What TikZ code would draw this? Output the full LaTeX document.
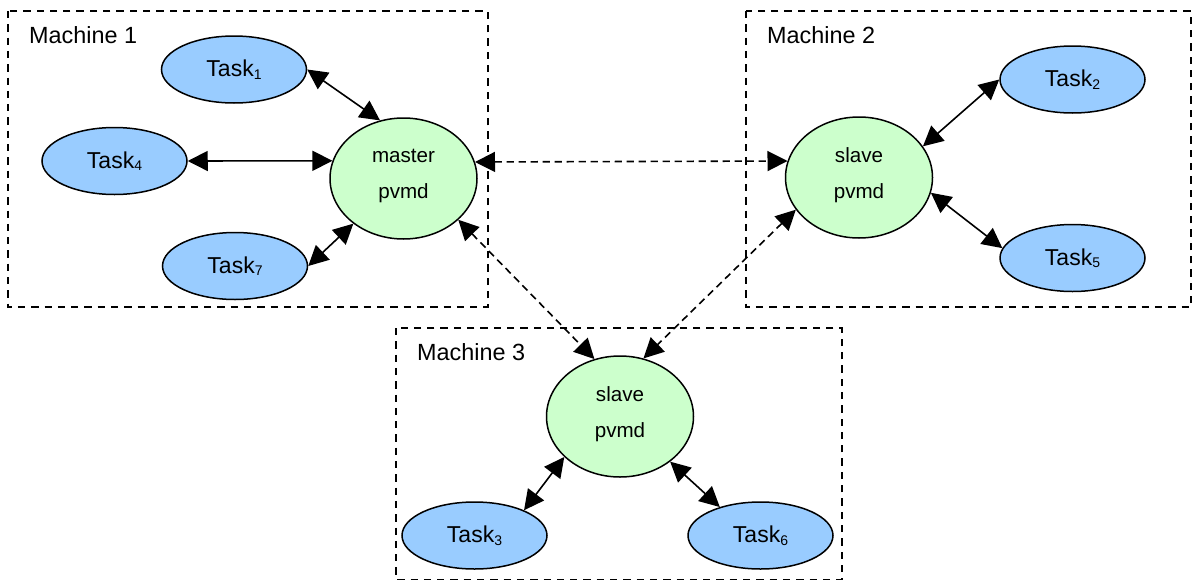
\documentclass[tikz,border=0pt]{standalone}
\usepackage{fontspec}
\setmainfont{Liberation Sans}
\usetikzlibrary{shapes.geometric,arrows.meta}
\definecolor{taskblue}{HTML}{99CCFF}
\definecolor{pvmdgreen}{HTML}{CCFFCC}
\newcommand\tsub[1]{\raisebox{-2.5pt}{\fontsize{14}{14}\selectfont #1}}
\begin{document}
\begin{tikzpicture}[x=1pt,y=-1pt,
  task/.style={ellipse, draw, line width=1.5pt, fill=taskblue, minimum width=145pt, minimum height=67pt, inner sep=0pt, font=\fontsize{23}{23}\selectfont},
  pvmd/.style={ellipse, draw, line width=1.5pt, fill=pvmdgreen, minimum width=147pt, minimum height=121pt, inner sep=0pt, align=center, text depth=8.8pt, font=\fontsize{20.6}{36}\selectfont},
  machinebox/.style={line width=1.5pt, dash pattern=on 7.3pt off 6pt},
  machinelabel/.style={anchor=base west, inner sep=0pt, font=\fontsize{23.4}{23.4}\selectfont},
  tip/.style={Triangle[length=20pt,width=20pt]},
  link/.style={line width=1.6pt, {Triangle[length=20pt,width=20pt]}-{Triangle[length=20pt,width=20pt]}},
  dlink/.style={link, dash pattern=on 7.3pt off 4.7pt}]
\useasboundingbox (0,0) rectangle (1192,581);
\fill[white] (0,0) rectangle (1192,581);
% machine boxes
\draw[machinebox] (8,11) rectangle (488,307);
\draw[machinebox] (746,11) rectangle (1191,307);
\draw[machinebox] (396,328) rectangle (842,579.5);
\node[machinelabel] (l1) at (29,43) {Machine 1};
\node[machinelabel] (l2) at (767,43) {Machine 2};
\node[machinelabel] (l3) at (417,360) {Machine 3};
% nodes
\node[task] (t1) at (234,69.5) {Task\tsub{1}};
\node[task] (t4) at (114.5,161) {Task\tsub{4}};
\node[task] (t7) at (235,266) {Task\tsub{7}};
\node[pvmd] (master) at (403.5,178.5) {master\\pvmd};
\node[pvmd] (s2) at (859,177.5) {slave\\pvmd};
\node[task] (t2) at (1072.5,79.5) {Task\tsub{2}};
\node[task] (t5) at (1072.5,258) {Task\tsub{5}};
\node[pvmd] (s3) at (620,416.5) {slave\\pvmd};
\node[task] (t3) at (474.5,535.5) {Task\tsub{3}};
\node[task] (t6) at (760.5,535.5) {Task\tsub{6}};
% connectors
\draw[link] (t1.east) -- (master.112.5);
\draw[link] (t4.east) -- (master.166.6);
\draw[link] (t7.east) -- (master.222.6);
\draw[dlink] (master.13.4) -- (s2.167.1);
\draw[dlink] (master.323.6) -- (s3.114);
\draw[dlink] (s2.207.5) -- (s3.68.5);
\draw[link] (s2.26.2) -- (t2.west);
\draw[link] (s2.348.8) -- (t5.172.1);
\draw[link] (s3.216.4) -- (t3.27.7);
\draw[link] (s3.318.4) -- (t6.145);
\end{tikzpicture}
\end{document}
